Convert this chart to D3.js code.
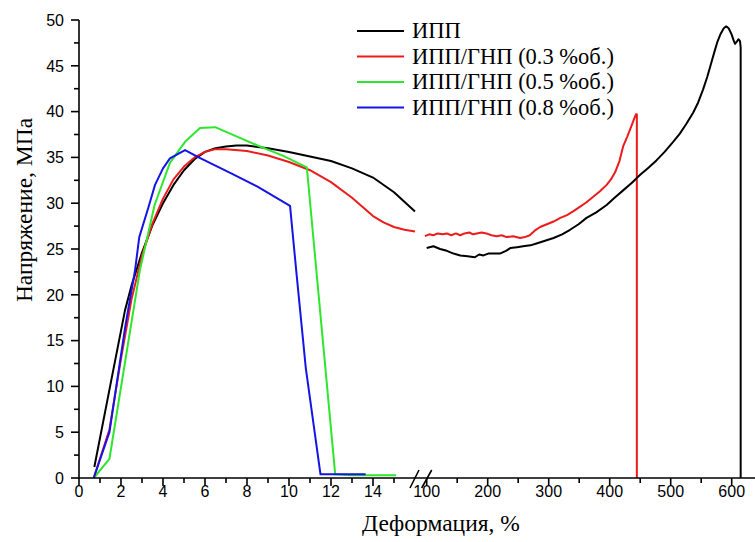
<!DOCTYPE html>
<html>
<head>
<meta charset="utf-8">
<script src="https://cdn.jsdelivr.net/npm/d3@7"></script>
<style>
  html, body { margin: 0; padding: 0; background: #fff; }
  svg { display: block; }
</style>
</head>
<body>
<svg id="chart" width="755" height="542"></svg>
<script>
// ---------- DATA ----------
const seriesNames = ["ИПП", "ИПП/ГНП (0.3 %об.)", "ИПП/ГНП (0.5 %об.)", "ИПП/ГНП (0.8 %об.)"];
const seriesColors = ["#000000", "#ec1c1c", "#2ee62e", "#1414e6"];

const xTitle = "Деформация, %";
const yTitle = "Напряжение, МПа";

const leftTicks = [0, 2, 4, 6, 8, 10, 12, 14];
const rightTicks = [100, 200, 300, 400, 500, 600];
const yTicks = [0, 5, 10, 15, 20, 25, 30, 35, 40, 45, 50];

// left (0-16 %) segment
const blackLeftX = [0.73, 1.48, 2.19, 2.5, 3, 3.5, 4, 4.5, 5, 5.5, 6, 6.5, 7, 7.5, 8, 9, 10, 11, 12, 13, 14, 15, 16];
const blackLeftY = [1.2, 10, 18.3, 21, 24.6, 27.6, 30, 32, 33.6, 34.8, 35.6, 36, 36.2, 36.3, 36.3, 36, 35.6, 35.1, 34.6, 33.8, 32.8, 31.2, 29.1];

const redLeftX = [0.7, 1.45, 2, 2.5, 3, 3.5, 4, 4.5, 5, 5.5, 6, 6.5, 7, 8, 9, 10, 11, 12, 13, 14, 14.5, 15, 15.5, 16];
const redLeftY = [0, 5.3, 13, 19.5, 24.3, 27.8, 30.5, 32.6, 34, 35, 35.6, 35.9, 35.9, 35.7, 35.2, 34.5, 33.6, 32.3, 30.6, 28.6, 27.9, 27.4, 27.1, 26.9];

const greenLeftX = [0.7, 1.45, 2.9, 3.6, 4.33, 5.05, 5.76, 6.48, 7.5, 8.5, 9.7, 10.85, 12.2, 13, 14, 15.1];
const greenLeftY = [0, 2.1, 22.7, 29.8, 34.4, 36.7, 38.2, 38.3, 37.3, 36.3, 35.2, 33.9, 0.4, 0.3, 0.3, 0.3];

const blueLeftX = [0.7, 1.45, 2.2, 2.67, 2.87, 3.3, 3.62, 4, 4.33, 5.05, 5.7, 6.4, 7.2, 8.5, 10.05, 10.35, 10.8, 11.5, 13.65];
const blueLeftY = [0, 5, 16.5, 22.7, 26.3, 29.5, 32, 33.8, 34.9, 35.8, 35, 34.2, 33.3, 31.8, 29.7, 22.5, 12, 0.4, 0.4];

// right (100-640 %) segment
const blackRightX = [100, 111, 122, 133, 144, 155, 167, 179, 186, 193, 201, 209, 220, 230, 237, 248, 258, 270, 280, 294, 308, 322, 335, 349, 362, 378, 395, 408, 422, 436, 450, 464, 477, 490, 504, 515, 526, 537, 545, 553, 560, 566, 572, 577, 582, 587, 591, 595, 600, 603, 605.5, 608, 611, 613.6, 614.7, 614.7];
const blackRightY = [25.1, 25.3, 25.0, 24.8, 24.5, 24.3, 24.2, 24.1, 24.4, 24.3, 24.5, 24.5, 24.5, 24.8, 25.1, 25.2, 25.3, 25.4, 25.6, 25.9, 26.2, 26.6, 27.1, 27.7, 28.4, 29.0, 29.8, 30.6, 31.4, 32.2, 33.1, 33.9, 34.7, 35.6, 36.7, 37.6, 38.7, 39.9, 41.0, 42.4, 43.8, 45.2, 46.6, 47.7, 48.5, 49.1, 49.3, 49.1, 48.4, 47.8, 47.4, 47.6, 47.9, 47.7, 47.0, 0];

const redRightX = [97, 104, 111, 118, 126, 133, 140, 148, 155, 162, 170, 176, 182, 190, 198, 206, 215, 223, 231, 242, 253, 261, 269, 277, 286, 297, 308, 319, 330, 340, 351, 362, 373, 384, 395, 402, 409, 416, 422, 429, 436, 440, 443, 444.5, 444.5];
const redRightY = [26.4, 26.6, 26.5, 26.7, 26.6, 26.7, 26.5, 26.7, 26.5, 26.7, 26.8, 26.6, 26.7, 26.8, 26.7, 26.5, 26.4, 26.5, 26.3, 26.4, 26.2, 26.3, 26.5, 27.0, 27.4, 27.7, 28.0, 28.4, 28.7, 29.1, 29.6, 30.1, 30.7, 31.3, 32.0, 32.6, 33.4, 34.6, 36.2, 37.3, 38.5, 39.2, 39.7, 39.7, 0];

// ---------- LAYOUT ----------
const svg = d3.select("#chart");
const y = d3.scaleLinear().domain([0, 50]).range([478, 20]);
const xL = d3.scaleLinear().domain([0, 16]).range([79, 415]);
const xR = d3.scaleLinear().domain([100, 600]).range([426.7, 731.7]);
const axisEnd = 755;

const tickFont = "'Liberation Sans', Arial, sans-serif";
const serif = "'Liberation Serif', 'Times New Roman', serif";

// lines
function drawLine(xs, ys, xScale, color) {
  const pts = xs.map((v, i) => [v, ys[i]]);
  svg.append("path")
    .datum(pts)
    .attr("fill", "none")
    .attr("stroke", color)
    .attr("stroke-width", 2)
    .attr("stroke-linejoin", "round")
    .attr("d", d3.line().x(d => xScale(d[0])).y(d => y(d[1])));
}
drawLine(blackLeftX, blackLeftY, xL, seriesColors[0]);
drawLine(redLeftX, redLeftY, xL, seriesColors[1]);
drawLine(greenLeftX, greenLeftY, xL, seriesColors[2]);
drawLine(blueLeftX, blueLeftY, xL, seriesColors[3]);
drawLine(redRightX, redRightY, xR, seriesColors[1]);
drawLine(blackRightX, blackRightY, xR, seriesColors[0]);

// axes
const axG = svg.append("g").attr("stroke", "#000").attr("stroke-width", 1.6);
axG.append("line").attr("x1", xL(0)).attr("x2", axisEnd).attr("y1", y(0)).attr("y2", y(0));
axG.append("line").attr("x1", xL(0)).attr("x2", xL(0)).attr("y1", y(0)).attr("y2", y(50));

// y ticks
d3.range(0, 50.01, 2.5).forEach(v => {
  const major = v % 5 === 0;
  axG.append("line").attr("x1", xL(0)).attr("x2", xL(0) - (major ? 8 : 5))
    .attr("y1", y(v)).attr("y2", y(v));
});
svg.append("g").selectAll("text").data(yTicks).join("text")
  .attr("x", 64).attr("y", d => y(d)).attr("dy", "0.36em")
  .attr("text-anchor", "end")
  .style("font-family", tickFont).style("font-size", "16px")
  .text(d => d);

// x ticks
d3.range(0, 15.01, 1).forEach(v => {
  const major = v % 2 === 0;
  axG.append("line").attr("x1", xL(v)).attr("x2", xL(v))
    .attr("y1", y(0)).attr("y2", y(0) + (major ? 8 : 5));
});
d3.range(100, 600.01, 50).forEach(v => {
  const major = v % 100 === 0;
  axG.append("line").attr("x1", xR(v)).attr("x2", xR(v))
    .attr("y1", y(0)).attr("y2", y(0) + (major ? 8 : 5));
});
svg.append("g").selectAll("text").data(leftTicks).join("text")
  .attr("x", d => xL(d)).attr("y", 497)
  .attr("text-anchor", "middle")
  .style("font-family", tickFont).style("font-size", "16px")
  .text(d => d);
svg.append("g").selectAll("text").data(rightTicks).join("text")
  .attr("x", d => xR(d)).attr("y", 497)
  .attr("text-anchor", "middle")
  .style("font-family", tickFont).style("font-size", "16px")
  .text(d => d);

// break marks
[[410, 419], [421.7, 431.7]].forEach(([a, b]) => {
  axG.append("line").attr("x1", a).attr("y1", y(0) + 10).attr("x2", b).attr("y2", y(0) - 8);
});

// axis titles
svg.append("text")
  .attr("x", 441).attr("y", 531)
  .attr("text-anchor", "middle")
  .style("font-family", serif).style("font-size", "23.5px")
  .text(xTitle);
svg.append("text")
  .attr("transform", "translate(32,210) rotate(-90)")
  .attr("text-anchor", "middle")
  .style("font-family", serif).style("font-size", "23.5px")
  .text(yTitle);

// legend
const legY = [31, 56.5, 82, 107.5];
seriesNames.forEach((name, i) => {
  svg.append("line").attr("x1", 357).attr("x2", 404)
    .attr("y1", legY[i]).attr("y2", legY[i])
    .attr("stroke", seriesColors[i]).attr("stroke-width", 2);
  svg.append("text").attr("x", 412).attr("y", legY[i]).attr("dy", "0.33em")
    .style("font-family", serif).style("font-size", "22.5px")
    .text(name);
});
</script>
</body>
</html>
